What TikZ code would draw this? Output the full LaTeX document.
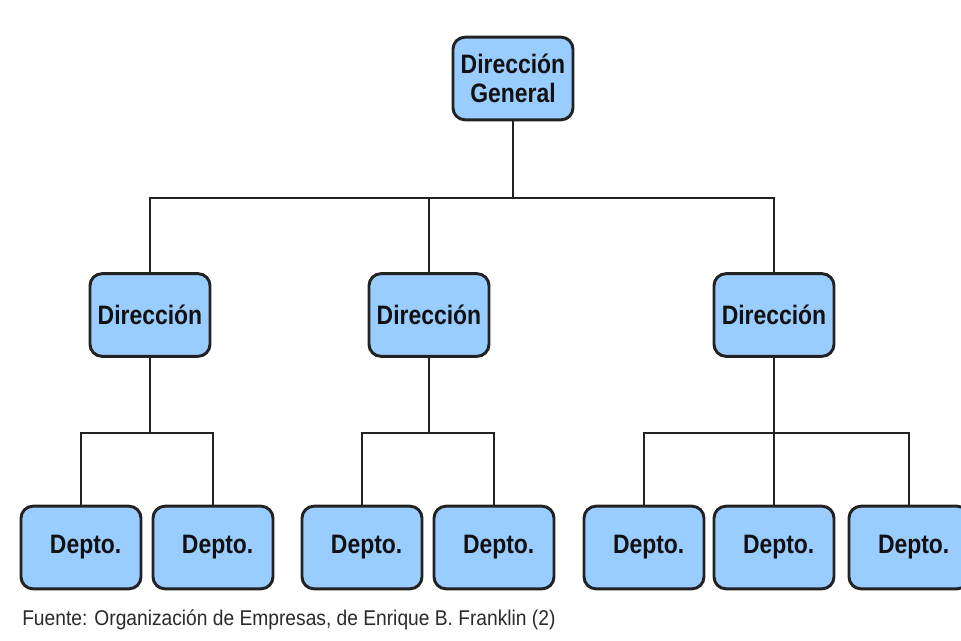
\documentclass[tikz,border=0pt]{standalone}
\usepackage{fontspec}
\newfontfamily\boxfont[FakeStretch=0.86]{Liberation Sans}
\newfontfamily\notefont[FakeStretch=0.9]{Liberation Sans}
\definecolor{boxfill}{HTML}{99CCFF}
\definecolor{boxline}{HTML}{222222}
\definecolor{inktext}{HTML}{111111}
\definecolor{notetext}{HTML}{2A2A2A}
\begin{document}
\begin{tikzpicture}[x=0.75pt,y=-0.75pt,
  unit/.style={draw=boxline, line width=2.2pt, fill=boxfill, rounded corners=9pt,
    minimum width=90pt, minimum height=62pt, inner sep=0pt, align=center,
    text=inktext, font=\boxfont\bfseries\fontsize{20}{22}\selectfont},
  link/.style={draw=boxline, line width=1.9pt},
  note/.style={anchor=base west, inner sep=0pt, text=notetext,
    font=\notefont\fontsize{16}{18}\selectfont}]
% page
\useasboundingbox[fill=white] (0,0) rectangle (961,640);

% top level
\node[unit] (dg) at (513,78.5) {Dirección\\General};

% second level
\node[unit] (d1) at (150,315) {Dirección};
\node[unit] (d2) at (429,315) {Dirección};
\node[unit] (d3) at (774,315) {Dirección};

% departments
\node[unit] (p1) at (81,547.5)  {\hspace*{7pt}Depto.};
\node[unit] (p2) at (213,547.5) {\hspace*{7pt}Depto.};
\node[unit] (p3) at (362,547.5) {\hspace*{7pt}Depto.};
\node[unit] (p4) at (494,547.5) {\hspace*{7pt}Depto.};
\node[unit] (p5) at (644,547.5) {\hspace*{7pt}Depto.};
\node[unit] (p6) at (774,547.5) {\hspace*{7pt}Depto.};
\node[unit] (p7) at (909,547.5) {\hspace*{7pt}Depto.};

% bus lines
\coordinate (b0) at (513,198);
\coordinate (b1) at (150,433);
\coordinate (b2) at (429,433);
\coordinate (b3) at (774,433);

% top to second level
\draw[link] (dg.south) -- (b0);
\draw[link] (d1.north) -- (d1.north |- b0) -- (d3.north |- b0) -- (d3.north);
\draw[link] (d2.north) -- (d2.north |- b0);

% second level to departments
\draw[link] (d1.south) -- (b1);
\draw[link] (p1.north) -- (p1.north |- b1) -- (p2.north |- b1) -- (p2.north);
\draw[link] (d2.south) -- (b2);
\draw[link] (p3.north) -- (p3.north |- b2) -- (p4.north |- b2) -- (p4.north);
\draw[link] (d3.south) -- (p6.north);
\draw[link] (p5.north) -- (p5.north |- b3) -- (p7.north |- b3) -- (p7.north);

% source
\node[note] (src) at (22,625) {Fuente: Organización de Empresas, de Enrique B. Franklin (2)};
\end{tikzpicture}
\end{document}
